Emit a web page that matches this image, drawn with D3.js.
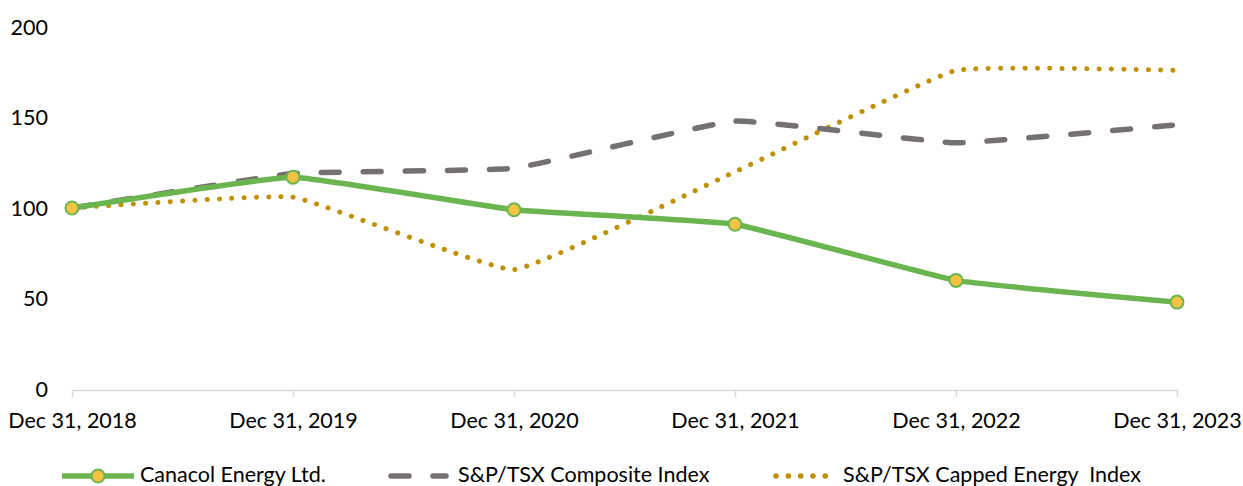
<!DOCTYPE html>
<html>
<head>
<meta charset="utf-8">
<script src="https://cdn.jsdelivr.net/npm/d3@7"></script>
<style>
  body { margin: 0; background: #fff; }
  text { font-family: Lato, "Open Sans", sans-serif; fill: #000; }
</style>
</head>
<body>
<script>
// chart data
const categories = ["Dec 31, 2018", "Dec 31, 2019", "Dec 31, 2020", "Dec 31, 2021", "Dec 31, 2022", "Dec 31, 2023"];
const canacol = [100, 117, 99, 91, 60, 48];
const composite = [100, 119, 122, 148, 136, 146];
const energy = [100, 106, 66, 120, 176, 176];
const yTicks = [0, 50, 100, 150, 200];

const width = 1243, height = 486;

const svg = d3.select("body").append("svg")
	.attr("width", width)
	.attr("height", height);

const x = d3.scalePoint()
	.domain(categories)
	.range([72, 1177]);

const y = d3.scaleLinear()
	.domain([0, 200])
	.range([389, 27]);

// y labels (no axis line in the original)
svg.selectAll(".ylab")
	.data(yTicks)
	.enter().append("text")
	.attr("class", "ylab")
	.attr("x", 48)
	.attr("y", d => y(d))
	.attr("dy", "0.36em")
	.attr("text-anchor", "end")
	.style("font-size", "21.5px")
	.text(d => d);

// x axis
const xAxis = svg.append("g")
	.attr("transform", "translate(0,390)")
	.call(d3.axisBottom(x).tickSize(7).tickSizeOuter(0).tickPadding(16));
xAxis.select(".domain").attr("stroke", "#d9d9d9").attr("stroke-width", 1.5);
xAxis.selectAll(".tick line").attr("stroke", "#d9d9d9").attr("stroke-width", 1.5);
xAxis.selectAll(".tick text")
	.style("font-family", "Lato, sans-serif")
	.style("font-size", "21.5px")
	.attr("fill", "#000");

// slightly smoothed lines, like the original
const line = d3.line()
	.x((d, i) => x(categories[i]))
	.y(d => y(d))
	.curve(d3.curveCardinal.tension(0.7));

// energy index - dotted gold
svg.append("path")
	.datum(energy)
	.attr("d", line)
	.attr("fill", "none")
	.attr("stroke", "#c09000")
	.attr("stroke-width", 5)
	.attr("stroke-linecap", "round")
	.attr("stroke-dasharray", "0.1 12.2");

// composite - gray dashes
svg.append("path")
	.datum(composite)
	.attr("d", line)
	.attr("fill", "none")
	.attr("stroke", "#767171")
	.attr("stroke-width", 5.5)
	.attr("stroke-linecap", "round")
	.attr("stroke-dasharray", "18 24");

// canacol - solid green with markers
svg.append("path")
	.datum(canacol)
	.attr("d", line)
	.attr("fill", "none")
	.attr("stroke", "#6ab550")
	.attr("stroke-width", 5.5);

svg.selectAll(".dot")
	.data(canacol)
	.enter().append("circle")
	.attr("class", "dot")
	.attr("cx", (d, i) => x(categories[i]))
	.attr("cy", d => y(d))
	.attr("r", 6.5)
	.attr("fill", "#f4c343")
	.attr("stroke", "#6ab550")
	.attr("stroke-width", 2);

// legend
const legendY = 476;
const legend = [
	{ name: "Canacol Energy Ltd.", x1: 62, x2: 134, tx: 140, color: "#6ab550", dash: null, marker: true },
	{ name: "S&P/TSX Composite Index", x1: 391, x2: 446, tx: 458, color: "#767171", dash: "18 24", marker: false },
	{ name: "S&P/TSX Capped Energy  Index", x1: 776, x2: 836, tx: 843, color: "#c09000", dash: "0.1 12.2", marker: false }
];

const lg = svg.selectAll(".legend")
	.data(legend)
	.enter().append("g")
	.attr("class", "legend");

lg.append("line")
	.attr("x1", d => d.x1)
	.attr("x2", d => d.x2)
	.attr("y1", legendY)
	.attr("y2", legendY)
	.attr("stroke", d => d.color)
	.attr("stroke-width", 5.5)
	.attr("stroke-linecap", d => d.dash ? "round" : "butt")
	.attr("stroke-dasharray", d => d.dash);

lg.filter(d => d.marker).append("circle")
	.attr("cx", d => (d.x1 + d.x2) / 2)
	.attr("cy", legendY)
	.attr("r", 6.5)
	.attr("fill", "#f4c343")
	.attr("stroke", "#6ab550")
	.attr("stroke-width", 2);

lg.append("text")
	.attr("x", d => d.tx)
	.attr("y", legendY)
	.attr("dy", "0.3em")
	.style("font-size", "21.5px")
	.style("white-space", "pre")
	.text(d => d.name);
</script>
</body>
</html>
